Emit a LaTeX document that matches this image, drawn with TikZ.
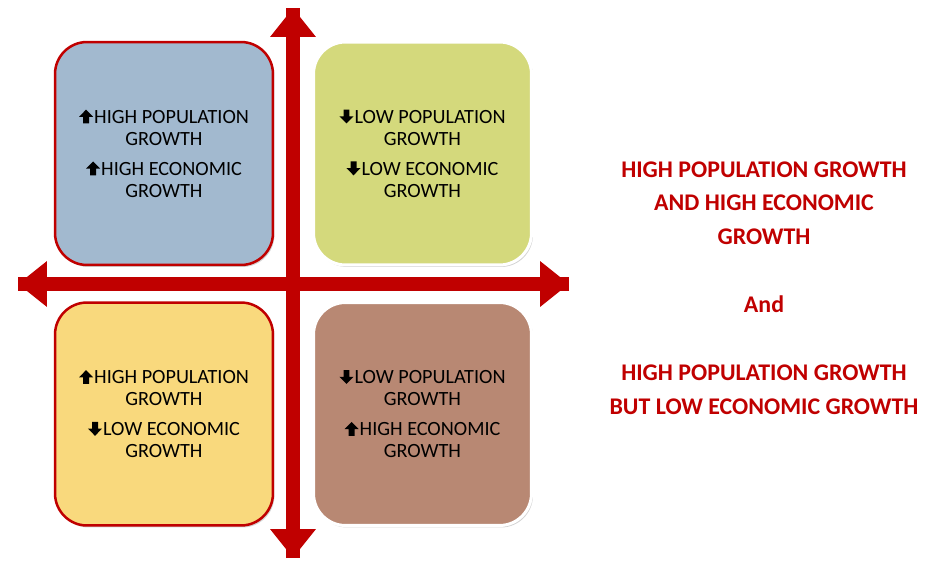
\documentclass[tikz,border=0pt]{standalone}
\usepackage{fontspec}
\setmainfont{Carlito}
\usetikzlibrary{arrows.meta,shadows}

\definecolor{axisred}{HTML}{C00000}
\definecolor{boxblue}{HTML}{A2B9CF}
\definecolor{boxgreen}{HTML}{D4D97C}
\definecolor{boxyellow}{HTML}{F9D97D}
\definecolor{boxbrown}{HTML}{B88873}

% small bold arrows in front of the box texts
\newcommand{\uparr}{\tikz[baseline=0pt]\fill[black, sharp corners, line width=0pt]
  (-1.7pt,0pt) -- (-1.7pt,3.8pt) -- (-4pt,3.8pt) -- (0pt,7.9pt) -- (4pt,3.8pt)
  -- (1.7pt,3.8pt) -- (1.7pt,0pt) -- cycle;\hspace{0.6pt}}
\newcommand{\downarr}{\tikz[baseline=0pt]\fill[black, sharp corners, line width=0pt]
  (-1.7pt,7.9pt) -- (-1.7pt,4.1pt) -- (-4pt,4.1pt) -- (0pt,0pt) -- (4pt,4.1pt)
  -- (1.7pt,4.1pt) -- (1.7pt,7.9pt) -- cycle;\hspace{0.6pt}}

\tikzset{
  quad/.style={rounded corners=0.64cm, minimum width=4.36cm, minimum height=4.46cm,
    align=center, font=\fontsize{11.5}{12.5}\selectfont,
    drop shadow={shadow xshift=0.03cm, shadow yshift=-0.04cm, opacity=0.35}},
  redquad/.style={quad, draw=axisred, line width=0.05cm},
  whitequad/.style={quad, draw=white, line width=0.06cm},
  axis/.style={axisred, line width=0.28cm, -{Triangle[width=0.88cm,length=0.58cm]}}
}

\begin{document}
\begin{tikzpicture}[x=0.02cm,y=-0.02cm]
\useasboundingbox (0,0) rectangle (944,561);
% axes
\coordinate (top) at (293,8);
\coordinate (bottom) at (293,558);
\coordinate (left) at (18,284);
\coordinate (right) at (569,284);
\draw[axis] (left) -- (right);
\draw[axis] (right) -- (left);
\draw[axis] (bottom) -- (top);
\draw[axis] (top) -- (bottom);
% quadrants
\node[redquad, fill=boxblue] (highhigh) at (164,153.5)
  {\uparr HIGH POPULATION\\ GROWTH\\[4.5pt] \uparr HIGH ECONOMIC\\ GROWTH};
\node[whitequad, fill=boxgreen] (lowlow) at (422.5,153.5)
  {\downarr LOW POPULATION\\ GROWTH\\[4.5pt] \downarr LOW ECONOMIC\\ GROWTH};
\node[redquad, fill=boxyellow] (highlow) at (164,414)
  {\uparr HIGH POPULATION\\ GROWTH\\[4.5pt] \downarr LOW ECONOMIC\\ GROWTH};
\node[whitequad, fill=boxbrown] (lowhigh) at (422.5,414)
  {\downarr LOW POPULATION\\ GROWTH\\[4.5pt] \uparr HIGH ECONOMIC\\ GROWTH};
% caption
\node[axisred, align=center, font=\bfseries\fontsize{13.6}{19.3}\selectfont] (caption) at (764,288)
  {HIGH POPULATION GROWTH\\ AND HIGH ECONOMIC\\ GROWTH\\[19.3pt] And\\[19.3pt]
   HIGH POPULATION GROWTH\\ BUT LOW ECONOMIC GROWTH};
\end{tikzpicture}
\end{document}
